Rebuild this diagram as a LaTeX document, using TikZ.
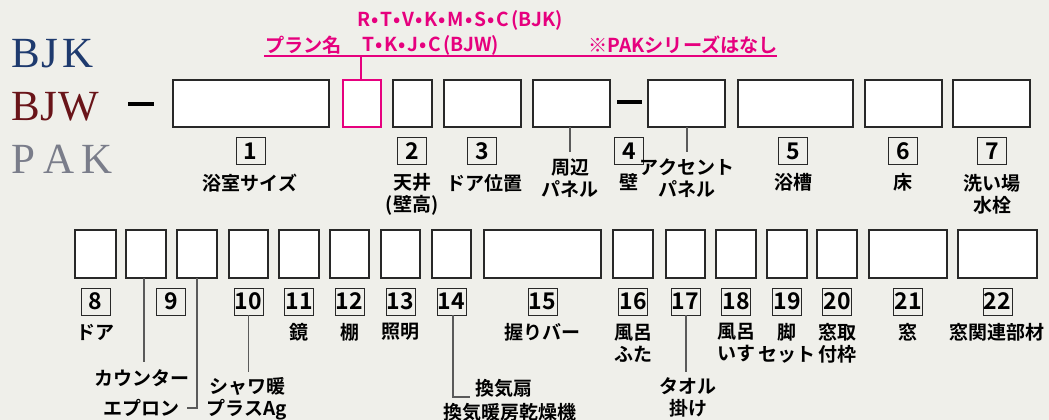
\documentclass[tikz,border=0pt]{standalone}
\usepackage{fontspec}
\newfontfamily\jp{Noto Sans CJK JP Bold}
\newfontfamily\ser{Liberation Serif}
\definecolor{bg}{RGB}{239,239,234}
\definecolor{pinkc}{RGB}{230,0,126}
\definecolor{boxc}{RGB}{40,40,40}
\definecolor{bjkc}{RGB}{30,58,110}
\definecolor{bjwc}{RGB}{105,20,25}
\definecolor{pakc}{RGB}{122,125,138}
\definecolor{connc}{RGB}{90,90,90}
\newcommand{\bul}{\hspace{1.4pt}•\hspace{1.4pt}}
\newcommand{\lpar}{\hspace{2.5pt}(}
\begin{document}
\begin{tikzpicture}[x=1pt,y=-1pt,
  mainbox/.style={draw=boxc, line width=1.8pt, fill=white, inner sep=0, outer sep=0, anchor=north west, minimum height=47pt},
  botbox/.style={mainbox, minimum height=48pt},
  pinkbox/.style={mainbox, draw=pinkc},
  numbox/.style={draw=boxc, line width=1pt, minimum width=29pt, minimum height=27pt, inner sep=0, outer sep=0, font=\jp\fontsize{23}{23}\selectfont},
  lbl/.style={font=\jp\fontsize{19}{22}\selectfont, align=center, inner sep=0},
  conn/.style={draw=connc, line width=1.2pt},
  pinktxt/.style={font=\jp\fontsize{19.2}{20}\selectfont, text=pinkc, inner sep=0, anchor=west},
  serif/.style={font=\ser\fontsize{43}{43}\selectfont, inner sep=0, anchor=base west},
  dashbar/.style={draw=black, line width=3.5pt}
]
\useasboundingbox (0,0) rectangle (1049,420);
\fill[bg] (0,0) rectangle (1049,420);

% series names
\node[serif, text=bjkc] (tbjk) at (11,67) {B\hspace{2pt}J\hspace{3.5pt}K};
\node[serif, text=bjwc] (tbjw) at (11,120) {B\hspace{1pt}J\hspace{1pt}W};
\node[serif, text=pakc] (tpak) at (11,173) {P\hspace{8pt}A\hspace{7pt}K};

% dash after series
\coordinate (d1a) at (128,104); \coordinate (d1b) at (154,104);
\draw[dashbar] (d1a) -- (d1b);

% top row boxes
\node[mainbox, minimum width=156pt] (b1) at (173,80) {};
\node[pinkbox, minimum width=38pt] (bp) at (343,80) {};
\node[mainbox, minimum width=39pt] (b2) at (393,80) {};
\node[mainbox, minimum width=77pt] (b3) at (444,80) {};
\node[mainbox, minimum width=77pt] (bsh) at (533,80) {};
\coordinate (d2a) at (617,102); \coordinate (d2b) at (642,102);
\draw[dashbar] (d2a) -- (d2b);
\node[mainbox, minimum width=77pt] (bac) at (648,80) {};
\node[mainbox, minimum width=115pt] (b5) at (738,80) {};
\node[mainbox, minimum width=77pt] (b6) at (865,80) {};
\node[mainbox, minimum width=77pt] (b7) at (953,80) {};

% pink annotations
\coordinate (pl1) at (264,56); \coordinate (pl2) at (777,56);
\draw[draw=pinkc, line width=1.2pt] (pl1) -- (pl2);
\coordinate (pv) at (361,56);
\draw[draw=pinkc, line width=1.2pt] (bp.north -| pv) -- (pv);
\node[pinktxt] (tplan) at (265,45) {プラン名};
\node[pinktxt] (tbjkp) at (357,20) {R\bul T\bul V\bul K\bul M\bul S\bul C\lpar BJK)};
\node[pinktxt] (tbjwp) at (362,45) {T\bul K\bul J\bul C\lpar BJW)};
\node[pinktxt] (tpak2) at (588,45) {※PAKシリーズはなし};

% top number boxes
\node[numbox] (n1) at (250.5,151) {1};
\node[numbox] (n2) at (412,151) {2};
\node[numbox] (n3) at (482,151) {3};
\node[numbox] (n4) at (629,151) {4};
\node[numbox] (n5) at (793,151) {5};
\node[numbox] (n6) at (903,151) {6};
\node[numbox] (n7) at (992,151) {7};

% top labels
\node[lbl] (l1) at (250,183) {浴室サイズ};
\node[lbl] (l2) at (412,194) {天井\\(壁高)};
\node[lbl] (l3) at (484,183) {ドア位置};
\coordinate (csh) at (570,152);
\draw[conn] (bsh.south -| csh) -- (csh);
\node[lbl] (lsh) at (570,178) {周辺\\パネル};
\node[lbl] (l4) at (629,182) {壁};
\coordinate (cac) at (687,152);
\draw[conn] (bac.south -| cac) -- (cac);
\node[lbl] (lac) at (687,178) {アクセント\\パネル};
\node[lbl] (l5) at (793,182) {浴槽};
\node[lbl] (l6) at (903,182) {床};
\node[lbl] (l7) at (992,194) {洗い場\\水栓};

% bottom row boxes
\node[botbox, minimum width=41pt] (b8) at (75,230) {};
\node[botbox, minimum width=40pt] (b9) at (126,230) {};
\node[botbox, minimum width=40pt] (b9e) at (177,230) {};
\node[botbox, minimum width=39pt] (b10) at (229,230) {};
\node[botbox, minimum width=40pt] (b11) at (279,230) {};
\node[botbox, minimum width=39pt] (b12) at (330,230) {};
\node[botbox, minimum width=39pt] (b13) at (381,230) {};
\node[botbox, minimum width=39pt] (b14) at (432,230) {};
\node[botbox, minimum width=117pt] (b15) at (484,230) {};
\node[botbox, minimum width=40pt] (b16) at (613,230) {};
\node[botbox, minimum width=39pt] (b17) at (666,230) {};
\node[botbox, minimum width=40pt] (b18) at (716,230) {};
\node[botbox, minimum width=40pt] (b19) at (767,230) {};
\node[botbox, minimum width=40pt] (b20) at (817,230) {};
\node[botbox, minimum width=78pt] (b21) at (869,230) {};
\node[botbox, minimum width=79pt] (b22) at (958,230) {};

% bottom number boxes
\node[numbox] (n8) at (95.5,301.5) {8};
\node[numbox] (n9) at (171,301.5) {9};
\node[numbox] (n10) at (248.5,301.5) {10};
\node[numbox] (n11) at (299,301.5) {11};
\node[numbox] (n12) at (349.5,301.5) {12};
\node[numbox] (n13) at (400.5,301.5) {13};
\node[numbox] (n14) at (451.5,301.5) {14};
\node[numbox] (n15) at (542.5,301.5) {15};
\node[numbox] (n16) at (633,301.5) {16};
\node[numbox] (n17) at (685.5,301.5) {17};
\node[numbox] (n18) at (736,301.5) {18};
\node[numbox] (n19) at (787,301.5) {19};
\node[numbox] (n20) at (837,301.5) {20};
\node[numbox] (n21) at (908,301.5) {21};
\node[numbox] (n22) at (997.5,301.5) {22};

% bottom labels
\node[lbl] (l8) at (95,332) {ドア};
\node[lbl] (l11) at (299,332) {鏡};
\node[lbl] (l12) at (349.5,332) {棚};
\node[lbl] (l13) at (400.5,332) {照明};
\node[lbl] (l15) at (542.5,332) {握りバー};
\node[lbl] (l16) at (633,343) {風呂\\ふた};
\node[lbl] (l18) at (736,343) {風呂\\いす};
\node[lbl] (l19) at (787,343) {脚\\セット};
\node[lbl] (l20) at (837,343) {窓取\\付枠};
\node[lbl] (l21) at (908,332) {窓};
\node[lbl] (l22) at (997,332) {窓関連部材};

% connectors with labels
\coordinate (ccnt) at (144,362);
\draw[conn] (b9.south -| ccnt) -- (ccnt);
\node[lbl] (lcnt) at (142,378) {カウンター};
\coordinate (cep1) at (197,408); \coordinate (cep2) at (187,408);
\draw[conn] (b9e.south -| cep1) -- (cep1) -- (cep2);
\node[lbl] (lep) at (141,408) {エプロン};
\coordinate (csw) at (248.5,372);
\draw[conn] (n10.south) -- (csw);
\node[lbl] (lsw) at (247,399) {シャワ暖\\プラスAg};
\coordinate (ckv1) at (453,397); \coordinate (ckv2) at (470,397);
\draw[conn] (n14.south -| ckv1) -- (ckv1) -- (ckv2);
\node[lbl, anchor=west] (lkv1) at (475,388) {換気扇};
\node[lbl] (lkv2) at (510,412) {換気暖房乾燥機};
\coordinate (ctw) at (686,372);
\draw[conn] (n17.south -| ctw) -- (ctw);
\node[lbl] (ltw) at (688,397) {タオル\\掛け};
\end{tikzpicture}
\end{document}
